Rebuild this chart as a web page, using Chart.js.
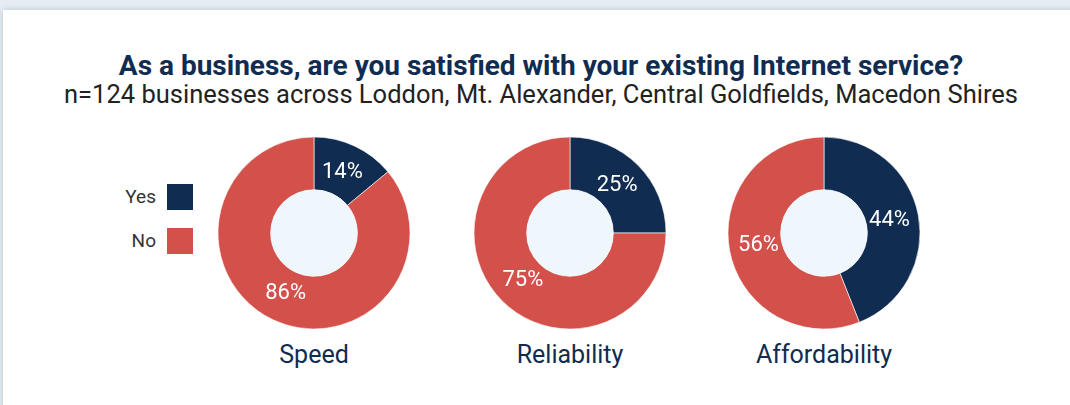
<!DOCTYPE html>
<html>
<head>
<meta charset="utf-8">
<script src="https://cdn.jsdelivr.net/npm/chart.js@4"></script>
<style>
  body { margin: 0; width: 1070px; height: 405px; overflow: hidden; background: #e4edf3; font-family: Roboto, sans-serif; }
  .card { position: absolute; left: 3px; top: 10px; width: 1090px; height: 420px; background: #fff; box-shadow: 0 0 6px rgba(0,0,0,0.18); }
  .title, .sub { position: absolute; left: 0; width: 1082px; text-align: center; white-space: nowrap; }
  .title { top: 49px; font-size: 28px; font-weight: bold; color: #112c51; }
  .sub { top: 79px; font-size: 25.5px; color: #222; }
  .lg { position: absolute; left: 90px; width: 103px; height: 26px; }
  .lg span { position: absolute; right: 37px; top: 1px; font-size: 19px; color: #333; }
  .lg i { position: absolute; right: 0; top: 0; width: 26px; height: 26px; }
  .pie { position: absolute; width: 200px; height: 200px; }
  .cat { position: absolute; width: 200px; text-align: center; top: 340px; font-size: 25px; color: #112c51; }
</style>
</head>
<body>
<div class="card"></div>
<div class="title">As a business, are you satisfied with your existing Internet service?</div>
<div class="sub">n=124 businesses across Loddon, Mt. Alexander, Central Goldfields, Macedon Shires</div>
<div id="legend"></div>
<div id="charts"></div>
<script>
const answers = ['Yes', 'No']
const colours = ['#112c51', '#d4504a']
const aspects = ['Speed', 'Reliability', 'Affordability']
const yesValues = [14, 25, 44]
const noValues = [86, 75, 56]

const centres = [314, 570, 824]

// legend: label on the left, box on the right
const legend = document.querySelector('#legend')
answers.forEach((name, i) => {
    legend.innerHTML += `<div class="lg" style="top:${184 + i * 44}px"><span>${name}</span><i style="background:${colours[i]}"></i></div>`
})

const ringLabels = {
    id: 'ringLabels',
    afterDatasetsDraw(chart) {
        const ctx = chart.ctx
        const meta = chart.getDatasetMeta(0)
        const first = meta.data[0]
        ctx.save()
        ctx.beginPath()
        ctx.arc(first.x, first.y, first.innerRadius, 0, Math.PI * 2)
        ctx.fillStyle = '#eff7fd'
        ctx.fill()
        ctx.font = '22px Roboto'
        ctx.fillStyle = '#fff'
        ctx.textAlign = 'center'
        ctx.textBaseline = 'middle'
        meta.data.forEach((arc, i) => {
            const mid = (arc.startAngle + arc.endAngle) / 2
            const r = (arc.innerRadius + arc.outerRadius) / 2 - 3
            const v = chart.data.datasets[0].data[i]
            ctx.fillText(v + '%', arc.x + Math.cos(mid) * r, arc.y + Math.sin(mid) * r)
        })
        ctx.restore()
    }
}

const holder = document.querySelector('#charts')
aspects.forEach((aspect, k) => {
    const box = document.createElement('div')
    box.className = 'pie'
    box.style.left = (centres[k] - 100) + 'px'
    box.style.top = '133px'
    const canvas = document.createElement('canvas')
    box.appendChild(canvas)
    holder.appendChild(box)
    const cat = document.createElement('div')
    cat.className = 'cat'
    cat.style.left = (centres[k] - 100) + 'px'
    cat.textContent = aspect
    holder.appendChild(cat)

    new Chart(canvas, {
        type: 'doughnut',
        data: {
            labels: answers,
            datasets: [{
                data: [yesValues[k], noValues[k]],
                backgroundColor: colours,
                borderColor: '#ffffff',
                borderWidth: 0.6
            }]
        },
        options: {
            responsive: true,
            maintainAspectRatio: false,
            animation: false,
            radius: 96,
            cutout: 45,
            layout: { padding: 0 },
            plugins: { legend: { display: false }, tooltip: { enabled: false } }
        },
        plugins: [ringLabels]
    })
})
</script>
</body>
</html>
